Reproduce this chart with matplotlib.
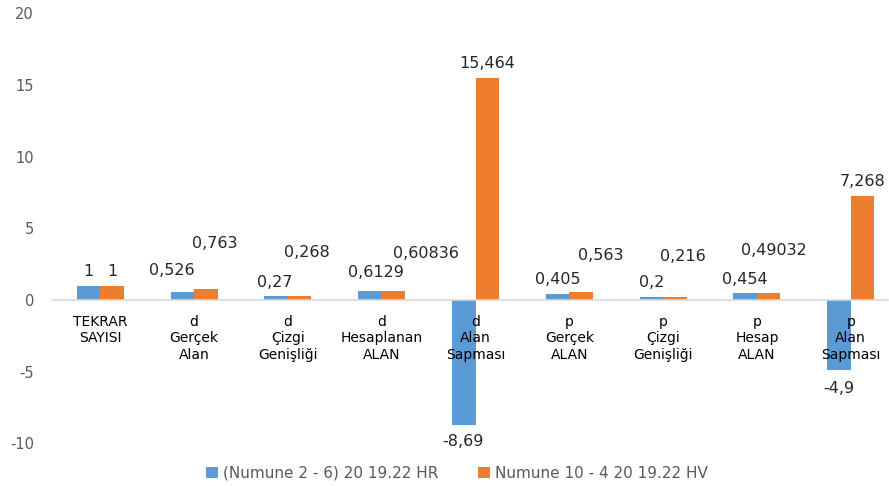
import matplotlib
matplotlib.use("Agg")
import matplotlib.pyplot as plt
import numpy as np

# -- Donnees -------------------------------------------------------------------
categories = ["TEKRAR\nSAYISI", "d\nGerçek\nAlan", "d\nÇizgi\nGenişliği",
              "d\nHesaplanan\nALAN", "d\nAlan\nSapması", "p\nGerçek\nALAN",
              "p\nÇizgi\nGenişliği", "p\nHesap\nALAN", "p\nAlan\nSapması"]
hr_values = [1, 0.526, 0.27, 0.6129, -8.69, 0.405, 0.2, 0.454, -4.9]
hv_values = [1, 0.763, 0.268, 0.60836, 15.464, 0.563, 0.216, 0.49032, 7.268]
series_names = ["(Numune 2 - 6) 20 19.22 HR", "Numune 10 - 4 20 19.22 HV"]

# decalages des etiquettes (pixels) pour eviter les chevauchements
hr_offsets = [(0, 14), (-11, 22), (-1, 14), (6, 19), (-1, -17), (0, 15), (0, 15), (0, 14), (0, -18)]
hv_offsets = [(0, 14), (9, 46), (7, 44), (33, 38), (0, 15), (20, 36), (8, 40), (5, 42), (0, 14)]

BLUE = "#5B9BD5"
ORANGE = "#ED7D31"
GREY = "#595959"

fig = plt.figure(figsize=(8.89, 4.86), dpi=100)
ax = fig.add_axes([53.4 / 889, 42.7 / 486, (888 - 53.4) / 889, 430 / 486])

x = np.arange(len(categories))
w = 0.25
bars_hr = ax.bar(x - w / 2, hr_values, w, color=BLUE, label=series_names[0], zorder=1)
bars_hv = ax.bar(x + w / 2, hv_values, w, color=ORANGE, label=series_names[1], zorder=1)

def fmt(v):
    return f"{v:g}".replace(".", ",")

for bars, vals, offs in [(bars_hr, hr_values, hr_offsets), (bars_hv, hv_values, hv_offsets)]:
    for b, v, (dx, dy) in zip(bars, vals, offs):
        ax.annotate(fmt(v), xy=(b.get_x() + b.get_width() / 2, v),
                    xytext=(dx, dy), textcoords="offset pixels",
                    ha="center", va="center", fontsize=11.5, color="#262626")

ax.set_ylim(-10, 20)
ax.set_xlim(-0.5, -0.5 + (888 - 53.4) / 93.8)
ax.set_yticks([-10, -5, 0, 5, 10, 15, 20])
ax.set_yticklabels(["-10", "-5", "0", "5", "10", "15", "20"])
ax.tick_params(axis="y", length=0, pad=14, labelsize=10.5, labelcolor=GREY)

ax.set_xticks(x)
ax.set_xticklabels(categories, fontsize=11, color=GREY, linespacing=1.32)
ax.tick_params(axis="x", length=0, pad=11)

for side in ["top", "right", "left"]:
    ax.spines[side].set_visible(False)
ax.spines["bottom"].set_position(("data", 0))
ax.spines["bottom"].set_color("#D9D9D9")
ax.spines["bottom"].set_linewidth(1.2)

fig.legend(loc="center", bbox_to_anchor=(457 / 889, 1 - 473 / 486), ncol=2,
           frameon=False, fontsize=11, labelcolor=GREY, handlelength=0.75,
           handleheight=0.75, handletextpad=0.35, columnspacing=2.6)

plt.savefig("out.png", dpi=100)
plt.close()
